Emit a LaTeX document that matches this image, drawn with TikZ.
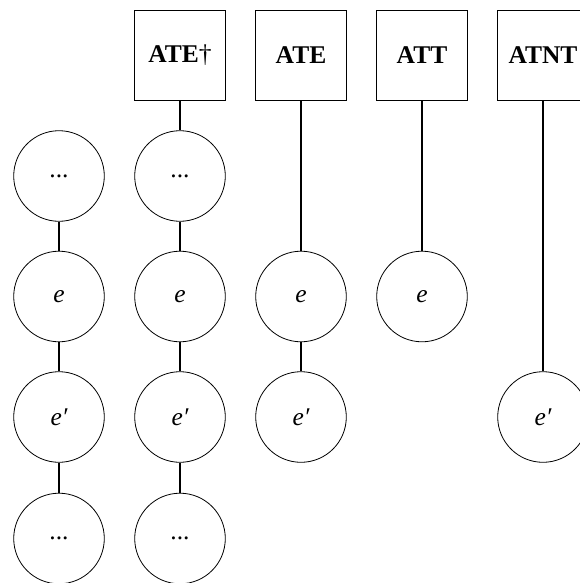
\documentclass[tikz,border=0pt]{standalone}
\usepackage{fontspec}
\setmainfont{Liberation Serif}
\begin{document}
\begin{tikzpicture}[x=1pt,y=-1pt,
  circ/.style={circle,draw,line width=0.8pt,minimum size=90.6pt,inner sep=0pt,font=\fontsize{25.5}{30}\selectfont\itshape},
  boxn/.style={rectangle,draw,line width=0.9pt,minimum width=91.4pt,minimum height=90pt,inner sep=0pt,font=\fontsize{25.5}{30}\selectfont\bfseries},
  link/.style={line width=1.8pt}]
\useasboundingbox (0,0) rectangle (579,583);
% boxes
\node[boxn] (b1) at (180,55) {ATE\textnormal{†}};
\node[boxn] (b2) at (301,55) {ATE};
\node[boxn] (b3) at (422,55) {ATT};
\node[boxn] (b4) at (543,55) {ATNT};
% column 1
\node[circ] (a1) at (59,176) {\upshape ...};
\node[circ] (a2) at (59,296.5) {e};
\node[circ] (a3) at (59,417) {e′};
\node[circ] (a4) at (59,538.5) {\upshape ...};
% column 2
\node[circ] (c1) at (180,176) {\upshape ...};
\node[circ] (c2) at (180,296.5) {e};
\node[circ] (c3) at (180,417) {e′};
\node[circ] (c4) at (180,538.5) {\upshape ...};
% column 3
\node[circ] (d2) at (301,296.5) {e};
\node[circ] (d3) at (301,417) {e′};
% column 4
\node[circ] (f2) at (422,296.5) {e};
% column 5
\node[circ] (g3) at (543,417) {e′};
% links
\draw[link] (a1) -- (a2);
\draw[link] (a2) -- (a3);
\draw[link] (a3) -- (a4);
\draw[link] (b1) -- (c1);
\draw[link] (c1) -- (c2);
\draw[link] (c2) -- (c3);
\draw[link] (c3) -- (c4);
\draw[link] (b2) -- (d2);
\draw[link] (d2) -- (d3);
\draw[link] (b3) -- (f2);
\draw[link] (b4) -- (g3);
\end{tikzpicture}
\end{document}
